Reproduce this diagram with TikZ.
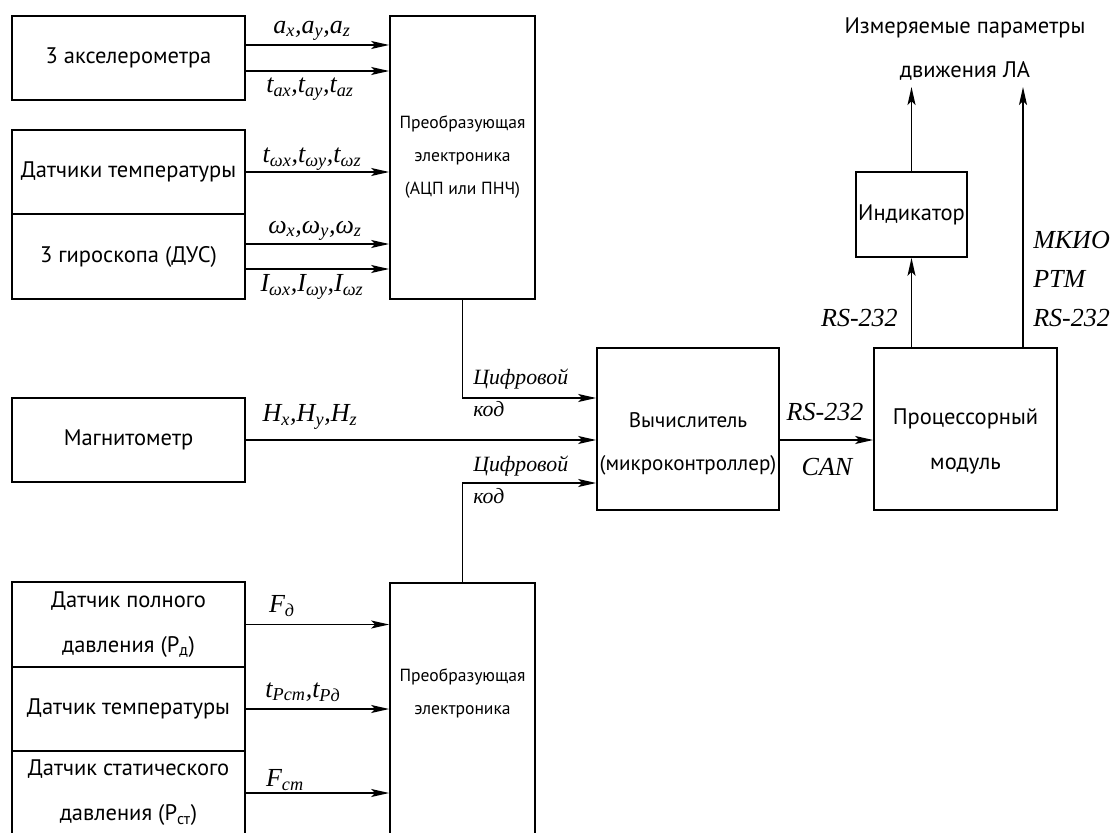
\documentclass[tikz,border=0pt]{standalone}
\usepackage{fontspec}
\setmainfont{PT Sans}
\newfontfamily\lblfont{Liberation Serif}
\usetikzlibrary{arrows.meta}

\tikzset{
  blk/.style={draw, line width=1.2pt, inner sep=0pt, align=center,
    font=\fontsize{16}{32}\selectfont},
  conv/.style={blk, font=\fontsize{12.5}{23.5}\selectfont},
  sig/.style={line width=1.2pt, -{Stealth[length=4.5mm, width=2mm, inset=1mm]}},
  lbl/.style={inner sep=0pt, align=left, font=\lblfont\itshape\fontsize{18.5}{23}\selectfont},
  cyrlbl/.style={lbl, font=\lblfont\itshape\fontsize{15.5}{23}\selectfont},
}

\begin{document}
\begin{tikzpicture}[x=0.025cm, y=-0.025cm]
  \path[use as bounding box] (0,0) rectangle (1116,833);
  \clip (0,0) rectangle (1116,833);

  % upper group of sensors
  \node[blk, minimum width=5.825cm, minimum height=2.1cm]   (acc) at (128.5,58)    {3 акселерометра};
  \node[blk, minimum width=5.825cm, minimum height=2.1cm]   (tmp) at (128.5,172)   {Датчики температуры};
  \node[blk, minimum width=5.825cm, minimum height=2.125cm] (gyr) at (128.5,256.5) {3 гироскопа (ДУС)};
  \node[conv, minimum width=3.625cm, minimum height=7.075cm] (adc) at (462.5,157.5)
    {Преобразующая\\электроника\\(АЦП или ПНЧ)};

  % signals into the converter
  \draw[sig] (acc.east |- 0,45)  -- (adc.west |- 0,45);
  \draw[sig] (acc.east |- 0,71)  -- (adc.west |- 0,71);
  \draw[sig] (tmp.east)          -- (adc.west |- tmp.east);
  \draw[sig] (gyr.east |- 0,244) -- (adc.west |- 0,244);
  \draw[sig] (gyr.east |- 0,269) -- (adc.west |- 0,269);
  \node[lbl] (la)  at (312,31)  {a\textsubscript{x},a\textsubscript{y},a\textsubscript{z}};
  \node[lbl] (lta) at (310,89)  {t\textsubscript{ax},t\textsubscript{ay},t\textsubscript{az}};
  \node[lbl] (ltw) at (312,159) {t\textsubscript{ωx},t\textsubscript{ωy},t\textsubscript{ωz}};
  \node[lbl] (lw)  at (315,231) {ω\textsubscript{x},ω\textsubscript{y},ω\textsubscript{z}};
  \node[lbl] (li)  at (312,287) {I\textsubscript{ωx},I\textsubscript{ωy},I\textsubscript{ωz}};

  % magnetometer
  \node[blk, minimum width=5.825cm, minimum height=2.1cm] (mag) at (128.5,440) {Магнитометр};

  % lower group of sensors
  \node[blk, minimum width=5.825cm, minimum height=2.125cm] (pfl) at (128.5,624.5) {Датчик полного\\давления (P\textsubscript{д})};
  \node[blk, minimum width=5.825cm, minimum height=2.1cm]   (ptm) at (128.5,709)   {Датчик температуры};
  \node[blk, minimum width=5.825cm, minimum height=2.1cm]   (pst) at (128.5,793)   {Датчик статического\\давления (P\textsubscript{ст})};
  \node[conv, minimum width=3.625cm, minimum height=7.2cm, anchor=north] (adc2) at (462.5,582) {};
  \node[conv, draw=none] (adc2t) at (462.5,693) {Преобразующая\\электроника};
  \draw[sig] (pfl.east) -- (adc2.west |- pfl.east);
  \draw[sig] (ptm.east) -- (adc2.west |- ptm.east);
  \draw[sig] (pst.east) -- (adc2.west |- pst.east);
  \node[lbl] (lfd) at (282,606) {F\textsubscript{д}};
  \node[lbl] (ltp) at (303,692) {t\textsubscript{Pст},t\textsubscript{Pд}};
  \node[lbl] (lfs) at (285,780) {F\textsubscript{ст}};

  % computer and processor module
  \node[blk, minimum width=4.55cm, minimum height=4.05cm] (cpu) at (688,429) {};
  \node[blk, draw=none, font=\fontsize{15}{30.5}\selectfont] (cput) at (688,444) {Вычислитель\\(микроконтроллер)};
  \node[blk, minimum width=4.575cm, minimum height=4.05cm] (prc) at (965.5,429) {};
  \node[blk, draw=none, font=\fontsize{16}{32}\selectfont] (prct) at (965.5,441) {Процессорный\\модуль};
  \node[blk, minimum width=2.775cm, minimum height=2.125cm] (ind) at (911.5,214.5) {Индикатор};

  \draw[sig] (adc.south) |- (cpu.west |- 0,398);
  \draw[sig] (adc2.north) |- (cpu.west |- 0,483);
  \draw[sig] (mag.east) -- (cpu.west |- mag.east);
  \node[cyrlbl, anchor=west] (lk1) at (473,393) {Цифровой\\код};
  \node[cyrlbl, anchor=west] (lk2) at (473,480) {Цифровой\\код};
  \node[lbl] (lh) at (310,417) {H\textsubscript{x},H\textsubscript{y},H\textsubscript{z}};

  \draw[sig] (cpu.east |- 0,440) -- (prc.west |- 0,440);
  \node[lbl] (lrs) at (825,412) {RS-232};
  \node[lbl] (lcan) at (827,467) {CAN};

  % outputs
  \coordinate (out1) at (911.5,87);
  \coordinate (out2) at (1023,87);
  \draw[sig] (prc.north -| ind.south) -- (ind.south);
  \draw[sig] (ind.north) -- (out1);
  \draw[sig] (prc.north -| out2) -- (out2);
  \node[lbl, anchor=east] (lrs2) at (898,318) {RS-232};
  \node[lbl, anchor=west, font=\lblfont\itshape\fontsize{18.5}{28}\selectfont] (lbus) at (1033,279) {МКИО\\РТМ\\RS-232};
  \node[align=center, font=\fontsize{16}{31}\selectfont] (ttl) at (965,49) {Измеряемые параметры\\движения ЛА};
\end{tikzpicture}
\end{document}
